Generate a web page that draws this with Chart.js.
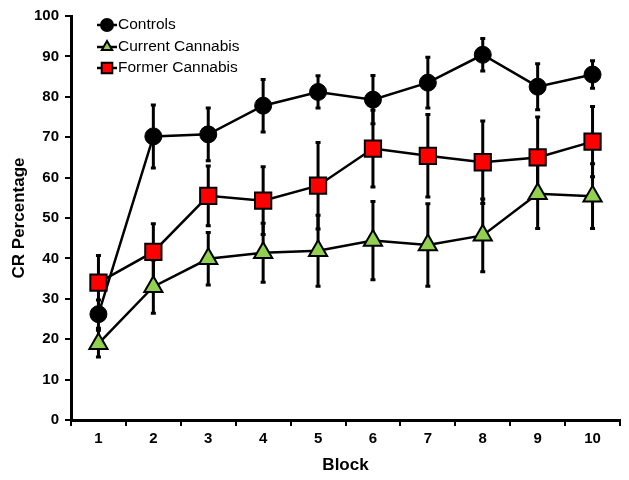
<!DOCTYPE html>
<html lang="en">
<head>
    <meta charset="UTF-8">
    <title>CR Percentage by Block</title>
    <script src="https://cdn.jsdelivr.net/npm/chart.js"></script>
    <style>
        body { margin: 0; background: #fff; }
        #wrap { width: 629px; height: 480px; }
    </style>
</head>
<body>
    <div id="wrap"><canvas id="chart" width="629" height="480"></canvas></div>

    <script>
        // values (mean and +/- error per block)
        const blocks = ['1', '2', '3', '4', '5', '6', '7', '8', '9', '10'];
        const controls = [26.2, 70.2, 70.7, 77.8, 81.2, 79.3, 83.5, 90.4, 82.5, 85.5];
        const controlsErr = [3.5, 7.8, 6.5, 6.5, 4.0, 6.0, 6.3, 4.0, 5.7, 3.4];
        const current = [18.9, 33.0, 39.9, 41.4, 41.9, 44.4, 43.3, 45.7, 56.0, 55.4];
        const currentErr = [3.3, 6.6, 6.5, 7.3, 8.8, 9.7, 10.2, 9.0, 8.6, 8.0];
        const former = [34.0, 41.6, 55.5, 54.3, 58.0, 67.2, 65.4, 63.8, 65.0, 68.9];
        const formerErr = [6.7, 7.0, 7.4, 8.4, 10.7, 9.5, 10.2, 10.2, 10.0, 8.7];
        const yTicks = [0, 10, 20, 30, 40, 50, 60, 70, 80, 90, 100];

        const FONT = '"Liberation Sans", Arial, sans-serif';

        // error bars, drawn under the markers
        const errorBars = {
            id: 'errorBars',
            beforeDatasetsDraw(chart) {
                const ctx = chart.ctx;
                const y = chart.scales.y;
                ctx.save();
                ctx.strokeStyle = '#000';
                ctx.lineWidth = 3;
                chart.data.datasets.forEach((ds, di) => {
                    const meta = chart.getDatasetMeta(di);
                    ds.data.forEach((v, i) => {
                        const e = ds.errors[i];
                        const px = meta.data[i].x;
                        const top = y.getPixelForValue(v + e);
                        const bot = y.getPixelForValue(v - e);
                        ctx.beginPath();
                        ctx.moveTo(px, top);
                        ctx.lineTo(px, bot);
                        ctx.moveTo(px - 2.5, top);
                        ctx.lineTo(px + 2.5, top);
                        ctx.moveTo(px - 2.5, bot);
                        ctx.lineTo(px + 2.5, bot);
                        ctx.stroke();
                    });
                });
                ctx.restore();
            }
        };

        // legend inside the plot, line + marker like the original
        const insideLegend = {
            id: 'insideLegend',
            afterDraw(chart) {
                const ctx = chart.ctx;
                const x0 = 97, x1 = 117, rows = [25, 47, 68];
                ctx.save();
                chart.data.datasets.forEach((ds, i) => {
                    const yy = rows[i];
                    ctx.strokeStyle = '#000';
                    ctx.lineWidth = 2.5;
                    ctx.beginPath();
                    ctx.moveTo(x0, yy);
                    ctx.lineTo(x1, yy);
                    ctx.stroke();
                    ctx.fillStyle = ds.pointBackgroundColor;
                    ctx.lineWidth = 2;
                    Chart.helpers.drawPoint(ctx, {
                        pointStyle: ds.pointStyle,
                        radius: ds.legendRadius,
                        borderWidth: 2
                    }, (x0 + x1) / 2, yy);
                    ctx.fillStyle = '#000';
                    ctx.font = '15.5px ' + FONT;
                    ctx.textBaseline = 'middle';
                    ctx.fillText(ds.label, x1 + 1, yy);
                });
                ctx.restore();
            }
        };

        new Chart(document.getElementById('chart'), {
            type: 'line',
            data: {
                labels: blocks,
                datasets: [
                    {
                        label: 'Controls', data: controls, errors: controlsErr,
                        borderColor: '#000', borderWidth: 2.5,
                        pointStyle: 'circle', pointRadius: 8.5, legendRadius: 6,
                        pointBackgroundColor: '#000', pointBorderColor: '#000', pointBorderWidth: 1
                    },
                    {
                        label: 'Current Cannabis', data: current, errors: currentErr,
                        borderColor: '#000', borderWidth: 2.5,
                        pointStyle: 'triangle', pointRadius: 10.5, legendRadius: 6,
                        pointBackgroundColor: '#92d050', pointBorderColor: '#000', pointBorderWidth: 2
                    },
                    {
                        label: 'Former Cannabis', data: former, errors: formerErr,
                        borderColor: '#000', borderWidth: 2.5,
                        pointStyle: 'rect', pointRadius: 11.5, legendRadius: 7.5,
                        pointBackgroundColor: '#ff0000', pointBorderColor: '#000', pointBorderWidth: 2
                    }
                ]
            },
            options: {
                responsive: false,
                animation: false,
                layout: { autoPadding: false, padding: { top: 16, right: 9, left: 0, bottom: 0 } },
                plugins: {
                    legend: { display: false },
                    tooltip: { enabled: false }
                },
                scales: {
                    x: {
                        type: 'category',
                        offset: true,
                        grid: { offset: true, drawOnChartArea: false, drawTicks: true, tickLength: 6, color: '#000', lineWidth: 2 },
                        border: { display: true, color: '#000', width: 3 },
                        ticks: { color: '#000', font: { family: FONT, size: 15, weight: 'bold' }, padding: 4, maxRotation: 0 },
                        title: { display: true, text: 'Block', color: '#000', font: { family: FONT, size: 17, weight: 'bold' }, padding: { top: 4 } },
                        afterFit(scale) {
                            scale.height = 60;
                            scale.paddingLeft = 0;
                            scale.paddingRight = 0;
                        }
                    },
                    y: {
                        min: 0, max: 100,
                        afterBuildTicks(scale) { scale.ticks = yTicks.map(v => ({ value: v })); },
                        grid: { drawOnChartArea: false, drawTicks: true, tickLength: 6, color: '#000', lineWidth: 2 },
                        border: { display: true, color: '#000', width: 3 },
                        ticks: { color: '#000', font: { family: FONT, size: 15, weight: 'bold' }, padding: 6 },
                        title: { display: true, text: 'CR Percentage', color: '#000', font: { family: FONT, size: 17, weight: 'bold' }, padding: { top: 9, bottom: 4 } },
                        afterFit(scale) { scale.width = 71; }
                    }
                }
            },
            plugins: [errorBars, insideLegend]
        });
    </script>
</body>
</html>
